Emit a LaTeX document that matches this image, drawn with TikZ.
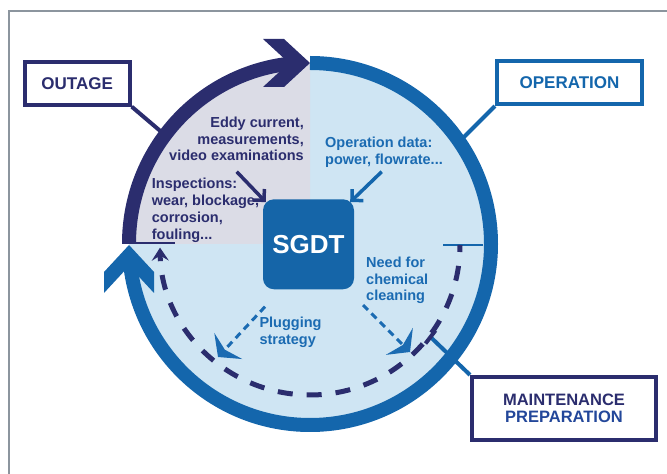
\documentclass[tikz,border=0pt]{standalone}
\usepackage{fontspec}
\setmainfont{Liberation Sans}
\usetikzlibrary{arrows.meta}
\definecolor{navy}{HTML}{2B2D6E}
\definecolor{ringblue}{HTML}{1466AC}
\definecolor{sgdtblue}{HTML}{1565A8}
\definecolor{txtblue}{HTML}{1B6BB2}
\definecolor{prepblue}{HTML}{23479A}
\definecolor{lightfill}{HTML}{CFE5F3}
\definecolor{grayq}{HTML}{DBDCE6}
\definecolor{framegray}{HTML}{8C959E}
\begin{document}
\begin{tikzpicture}[x=1pt,y=1pt,
  lbl/.style={font=\bfseries\fontsize{14.5}{16.8}\selectfont, inner sep=0pt},
  boxlbl/.style={draw=#1, text=#1, line width=4pt, fill=white, inner sep=0pt, font=\bfseries\fontsize{17}{17}\selectfont},
  conn/.style={line width=4pt},
  ringline/.style={line width=14pt},
  inarrow/.style={line width=3.5pt, -{Straight Barb[length=8pt,width=16pt]}},
  dasharrow/.style={txtblue, line width=3pt, dash pattern=on 7pt off 5pt, -{Stealth[length=15pt,width=38pt,inset=5pt]}}]
\useasboundingbox (0,0) rectangle (667,474);
% frame
\draw[framegray, line width=2pt] (9,-5) -- (9,463.3) -- (672,463.3);
% disc and quadrant
\fill[lightfill] (310,230) circle[radius=181];
\fill[grayq] (310,230) -- (129,230) arc[start angle=180,end angle=90,radius=181] -- cycle;
% boxes and connectors under the ring
\node[boxlbl=navy, minimum width=105pt, minimum height=42.7pt] (outage) at (77.2,390.7) {OUTAGE};
\coordinate (outRing) at (165,339);
\draw[navy, conn] (outage.south east) -- (outRing);
\node[boxlbl=ringblue, minimum width=145pt, minimum height=42.7pt] (operation) at (569.5,391.3) {OPERATION};
\coordinate (opRing) at (460,333);
\draw[ringblue, conn] (operation.south west) -- (opRing);
% blue ring with arrowhead
\draw[ringblue, ringline] (310,411) arc[start angle=90,end angle=-175,radius=181];
\fill[ringblue] (129,229) -- (154,202) -- (154,181) -- (129,208) -- (104,181) -- (104,202) -- cycle;
% navy outage arc with arrowhead
\draw[navy, ringline] (129,230.5) arc[start angle=180,end angle=95,radius=181];
\fill[navy] (310,411) -- (284,435) -- (263,435) -- (289,411) -- (263,387) -- (284,387) -- cycle;
% maintenance box and connector
\node[boxlbl=navy, minimum width=184pt, minimum height=62.7pt, align=center, font=\bfseries\fontsize{16.5}{16.6}\selectfont] (maint) at (564,65.7) {MAINTENANCE\\{\color{prepblue}PREPARATION}};
\coordinate (mEnd) at (430.5,137);
\draw[ringblue, conn] (maint.north west) -- (mEnd);
\draw[navy, line width=4pt] (mEnd) ++(-5,-6.5) -- ++(10,13);
% dashed inner cycle
\draw[ringblue, line width=2pt] (443,229) -- (483,229);
\draw[navy, line width=2pt] (122,230.7) -- (175,230.7);
\draw[navy, line width=5pt, dash pattern=on 15pt off 14pt, dash phase=8pt, -{Stealth[length=13pt,width=17pt,inset=5pt]}] (460,229) arc[start angle=0,end angle=-179,radius=150];
% SGDT
\node[fill=sgdtblue, rounded corners=11pt, minimum width=91pt, minimum height=90pt, inner sep=0pt, text=white, font=\bfseries\fontsize{26}{26}\selectfont] (sgdt) at (308.5,229.7) {SGDT};
% texts
\node[lbl, navy, align=right, anchor=north east] (eddy) at (304,357.5) {Eddy current,\\measurements,\\video examinations};
\node[lbl, navy, align=left, anchor=north west] (insp) at (151.7,296) {Inspections:\\wear, blockage,\\corrosion,\\fouling...};
\node[lbl, txtblue, align=left, anchor=north west] (opdata) at (325,337.5) {Operation data:\\power, flowrate...};
\node[lbl, txtblue, align=left, anchor=north west] (chem) at (366,217.5) {Need for\\chemical\\cleaning};
\node[lbl, txtblue, align=left, anchor=north west] (plug) at (259.3,157.5) {Plugging\\strategy};
% arrows into SGDT
\coordinate (eddyStart) at (236.7,302.3);
\draw[navy, inarrow] (eddyStart) -- ([shift={(3,-3)}]sgdt.north west);
\coordinate (opStart) at (381.7,302.3);
\draw[ringblue, inarrow] (opStart) -- ([shift={(-4,-3)}]sgdt.north east);
% dashed arrows out of SGDT
\coordinate (plugStart) at (265,167.3);
\coordinate (plugEnd) at (218,117);
\draw[dasharrow] (plugStart) -- (plugEnd);
\coordinate (chemStart) at (363,169);
\coordinate (chemEnd) at (410,122);
\draw[dasharrow] (chemStart) -- (chemEnd);
\end{tikzpicture}
\end{document}
